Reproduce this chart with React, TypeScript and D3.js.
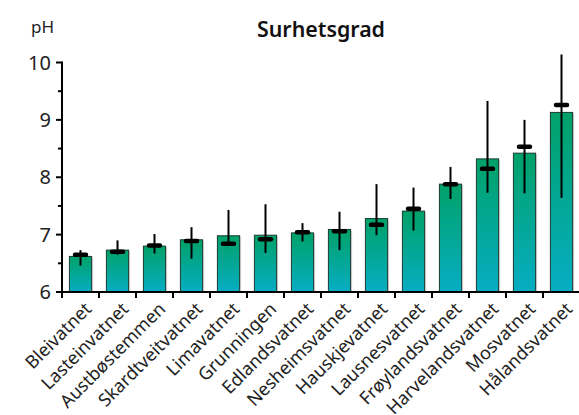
import React from "react";
import * as d3 from "d3";

const categories = ["Bleivatnet","Lasteinvatnet","Austbøstemmen","Skardtveitvatnet","Limavatnet","Grunningen","Edlandsvatnet","Nesheimsvatnet","Hauskjevatnet","Lausnesvatnet","Frøylandsvatnet","Harvelandsvatnet","Mosvatnet","Hålandsvatnet"];
const means = [6.62,6.73,6.80,6.91,6.98,6.99,7.03,7.09,7.28,7.41,7.88,8.32,8.42,9.13];
const medians = [6.65,6.70,6.81,6.89,6.84,6.92,7.04,7.06,7.17,7.45,7.88,8.15,8.53,9.26];
const mins = [6.46,6.65,6.67,6.58,6.82,6.68,6.88,6.73,6.99,7.07,7.62,7.73,7.72,7.64];
const maxs = [6.73,6.90,7.01,7.13,7.43,7.53,7.20,7.40,7.88,7.82,8.18,9.33,9.00,10.14];
const majorTicks = [6,7,8,9,10];
const minorTicks = [6.5,7.5,8.5,9.5];
const title = "Surhetsgrad";
const yLabel = "pH";

export default function App() {
  const W = 579, H = 415;
  const x0 = 62, x1 = 580, yTop = 62.5, yBot = 292;
  const x = d3.scaleBand<string>().domain(categories).range([x0, x1]).paddingInner(0.4).paddingOuter(0.2);
  const y = d3.scaleLinear().domain([6, 10]).range([yBot, yTop]);
  const step = x.step();
  const bw = x.bandwidth();
  const font = "'Noto Sans', 'DejaVu Sans', sans-serif";
  return (
    <svg width={W} height={H} style={{ position: "absolute", left: 0, top: 0 }} fontFamily={font}>
      <defs>
        <linearGradient id="barGrad" x1="0" y1="0" x2="0" y2="1">
          <stop offset="0%" stopColor="#00a168" />
          <stop offset="100%" stopColor="#06adc3" />
        </linearGradient>
      </defs>
      <rect width={W} height={H} fill="#fff" />
      <text x={321} y={37} textAnchor="middle" fontSize={21} fontWeight={600} fill="#111" textLength={128} lengthAdjust="spacingAndGlyphs">{title}</text>
      <text x={31} y={33} fontSize={17} fill="#222">{yLabel}</text>
      {categories.map((c, i) => {
        const bx = x(c)!;
        const top = y(means[i]);
        return (
          <g key={c}>
            <rect x={bx + 1.5} y={top + 1} width={bw} height={yBot - top - 1} fill="#bbb" opacity={0.6} />
            <rect x={bx} y={top} width={bw} height={yBot - top} fill="url(#barGrad)" stroke="#1c3a30" strokeWidth={1} />
          </g>
        );
      })}
      {categories.map((c, i) => {
        const cx = x(c)! + bw / 2;
        return (
          <g key={c + "e"}>
            <line x1={cx} x2={cx} y1={y(mins[i])} y2={y(maxs[i])} stroke="#000" strokeWidth={2} />
            <line x1={cx - 5.5} x2={cx + 5.5} y1={y(medians[i])} y2={y(medians[i])} stroke="#000" strokeWidth={4.5} strokeLinecap="round" />
          </g>
        );
      })}
      <line x1={x0} x2={x0} y1={yTop - 1} y2={yBot + 1} stroke="#000" strokeWidth={2} />
      <line x1={x0 - 1} x2={x1} y1={yBot} y2={yBot} stroke="#000" strokeWidth={2} />
      {majorTicks.map((t) => (
        <g key={"m" + t}>
          <line x1={x0 - 6} x2={x0} y1={y(t)} y2={y(t)} stroke="#000" strokeWidth={2} />
          <text x={x0 - 11} y={y(t)} dy="0.36em" textAnchor="end" fontSize={20} fill="#222">{t}</text>
        </g>
      ))}
      {minorTicks.map((t) => (
        <line key={"n" + t} x1={x0 - 4} x2={x0} y1={y(t)} y2={y(t)} stroke="#000" strokeWidth={2} />
      ))}
      {d3.range(categories.length + 1).map((i) => (
        <line key={"xt" + i} x1={x0 + i * step} x2={x0 + i * step} y1={yBot} y2={yBot + 6} stroke="#000" strokeWidth={2} />
      ))}
      {categories.map((c) => {
        const cx = x(c)! + bw / 2;
        return (
          <text key={c + "l"} transform={`translate(${cx + 3},${yBot + 9}) rotate(-45)`} textAnchor="end" dy="0.71em" fontSize={18} fill="#222">{c}</text>
        );
      })}
    </svg>
  );
}
